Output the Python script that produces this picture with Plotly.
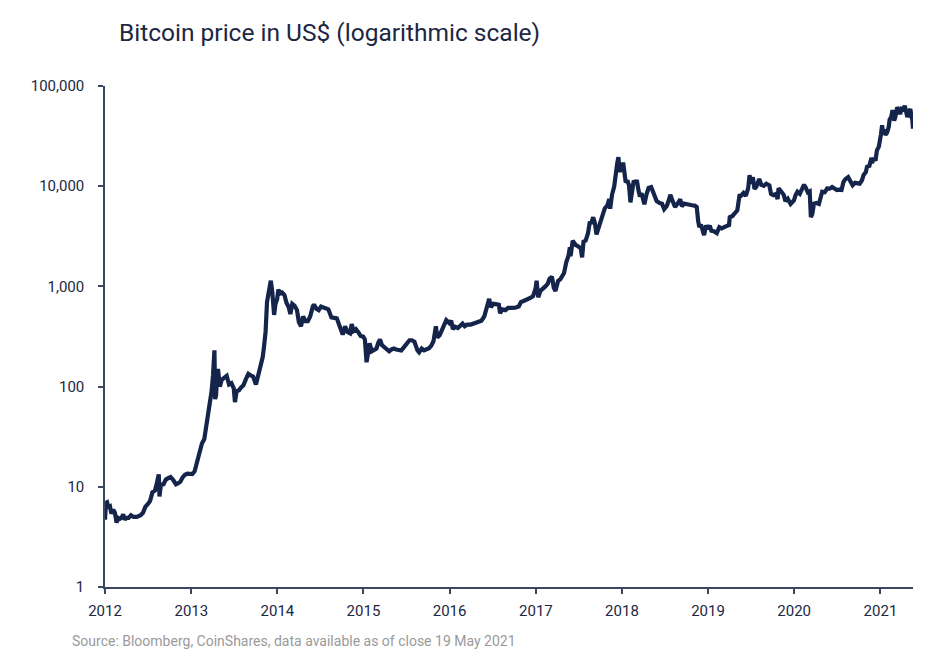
import plotly.graph_objects as go

dates = [
"2012-01-01","2012-01-05","2012-01-10","2012-01-15","2012-01-22","2012-01-28","2012-02-05","2012-02-12","2012-02-19","2012-02-26",
"2012-03-04","2012-03-11","2012-03-18","2012-03-25","2012-04-01","2012-04-10","2012-04-20","2012-05-01","2012-05-15","2012-05-31",
"2012-06-10","2012-06-20","2012-06-30","2012-07-10","2012-07-20","2012-07-31","2012-08-08","2012-08-16","2012-08-19","2012-08-25",
"2012-09-05","2012-09-15","2012-09-25","2012-10-05","2012-10-15","2012-10-28","2012-11-05","2012-11-15","2012-11-25","2012-12-05",
"2012-12-15","2012-12-25",
"2013-01-05","2013-01-15","2013-01-25","2013-02-05","2013-02-15","2013-02-25","2013-03-05","2013-03-12","2013-03-20","2013-03-28",
"2013-04-03","2013-04-09","2013-04-12","2013-04-16","2013-04-20","2013-04-24","2013-05-02","2013-05-10","2013-05-20","2013-05-31",
"2013-06-10","2013-06-20","2013-06-30","2013-07-05","2013-07-12","2013-07-22","2013-07-31","2013-08-10","2013-08-20","2013-08-31",
"2013-09-10","2013-09-20","2013-10-02","2013-10-10","2013-10-20","2013-10-31","2013-11-06","2013-11-12","2013-11-18","2013-11-22",
"2013-11-30","2013-12-04","2013-12-10","2013-12-18","2013-12-24","2013-12-31",
"2014-01-05","2014-01-12","2014-01-20","2014-01-31","2014-02-08","2014-02-18","2014-02-25","2014-03-05","2014-03-15","2014-03-25",
"2014-04-02","2014-04-11","2014-04-20","2014-04-30","2014-05-10","2014-05-20","2014-05-31","2014-06-05","2014-06-15","2014-06-25",
"2014-07-05","2014-07-15","2014-07-25","2014-08-05","2014-08-18","2014-08-31","2014-09-10","2014-09-22","2014-10-05","2014-10-15",
"2014-10-25","2014-11-05","2014-11-12","2014-11-20","2014-11-30","2014-12-10","2014-12-20","2014-12-31",
"2015-01-07","2015-01-14","2015-01-20","2015-01-27","2015-02-05","2015-02-15","2015-02-25","2015-03-05","2015-03-12","2015-03-20",
"2015-03-31","2015-04-10","2015-04-20","2015-04-30","2015-05-10","2015-05-20","2015-05-31","2015-06-10","2015-06-20","2015-06-30",
"2015-07-10","2015-07-15","2015-07-25","2015-08-05","2015-08-18","2015-08-25","2015-09-05","2015-09-15","2015-09-25","2015-10-05",
"2015-10-15","2015-10-25","2015-11-04","2015-11-10","2015-11-20","2015-11-30","2015-12-10","2015-12-18","2015-12-31",
"2016-01-08","2016-01-15","2016-01-25","2016-02-05","2016-02-15","2016-02-25","2016-03-05","2016-03-15","2016-03-31","2016-04-15",
"2016-04-30","2016-05-15","2016-05-27","2016-06-05","2016-06-17","2016-06-24","2016-07-05","2016-07-15","2016-07-28","2016-08-02",
"2016-08-12","2016-08-25","2016-09-05","2016-09-20","2016-10-05","2016-10-20","2016-10-30","2016-11-10","2016-11-20","2016-11-30",
"2016-12-10","2016-12-20","2016-12-31",
"2017-01-04","2017-01-11","2017-01-20","2017-01-31","2017-02-10","2017-02-20","2017-02-28","2017-03-10","2017-03-18","2017-03-25",
"2017-04-05","2017-04-15","2017-04-30","2017-05-10","2017-05-20","2017-05-25","2017-05-28","2017-06-06","2017-06-12","2017-06-18",
"2017-06-30","2017-07-10","2017-07-16","2017-07-22","2017-07-31","2017-08-10","2017-08-17","2017-08-25","2017-09-01","2017-09-08",
"2017-09-15","2017-09-22","2017-09-30","2017-10-10","2017-10-20","2017-10-31","2017-11-08","2017-11-12","2017-11-20","2017-11-29",
"2017-12-07","2017-12-12","2017-12-17","2017-12-22","2017-12-27","2017-12-31",
"2018-01-06","2018-01-12","2018-01-17","2018-01-24","2018-01-31","2018-02-06","2018-02-12","2018-02-20","2018-02-27","2018-03-05",
"2018-03-12","2018-03-18","2018-03-25","2018-04-01","2018-04-06","2018-04-15","2018-04-24","2018-05-05","2018-05-15","2018-05-28",
"2018-06-10","2018-06-20","2018-06-29","2018-07-10","2018-07-20","2018-07-25","2018-08-05","2018-08-14","2018-08-25","2018-09-05",
"2018-09-12","2018-09-22","2018-10-05","2018-10-15","2018-10-25","2018-11-05","2018-11-14","2018-11-20","2018-11-25","2018-12-02",
"2018-12-10","2018-12-15","2018-12-24","2018-12-31",
"2019-01-08","2019-01-15","2019-01-25","2019-02-07","2019-02-18","2019-02-28","2019-03-15","2019-03-31","2019-04-03","2019-04-15",
"2019-04-25","2019-05-05","2019-05-14","2019-05-20","2019-05-31","2019-06-10","2019-06-20","2019-06-26","2019-07-02","2019-07-10",
"2019-07-17","2019-07-25","2019-08-06","2019-08-15","2019-08-25","2019-09-05","2019-09-18","2019-09-25","2019-10-05","2019-10-15",
"2019-10-23","2019-10-27","2019-11-08","2019-11-18","2019-11-25","2019-12-05","2019-12-17","2019-12-31",
"2020-01-07","2020-01-15","2020-01-25","2020-02-05","2020-02-12","2020-02-20","2020-02-28","2020-03-07","2020-03-12","2020-03-18",
"2020-03-25","2020-04-05","2020-04-15","2020-04-29","2020-05-10","2020-05-20","2020-05-31","2020-06-10","2020-06-20","2020-06-30",
"2020-07-10","2020-07-20","2020-07-28","2020-08-05","2020-08-17","2020-08-25","2020-09-05","2020-09-15","2020-09-25","2020-10-05",
"2020-10-15","2020-10-21","2020-10-31","2020-11-05","2020-11-15","2020-11-24","2020-11-26","2020-12-05","2020-12-11","2020-12-17",
"2020-12-25","2020-12-31",
"2021-01-03","2021-01-08","2021-01-12","2021-01-15","2021-01-22","2021-01-29","2021-02-05","2021-02-09","2021-02-16","2021-02-21",
"2021-02-28","2021-03-05","2021-03-13","2021-03-20","2021-03-25","2021-04-01","2021-04-08","2021-04-14","2021-04-18","2021-04-25",
"2021-05-03","2021-05-08","2021-05-12","2021-05-16","2021-05-19",
]

prices_usd = [
4.7,6.9,7.0,6.3,6.4,5.4,5.9,5.5,4.4,4.9,
4.8,4.9,5.3,4.7,4.9,4.9,5.2,5.0,5.0,5.2,
5.5,6.3,6.7,7.2,8.8,9.2,10.9,13.3,8.0,10.5,
10.6,11.8,12.2,12.5,11.8,10.6,10.8,11.2,12.4,13.2,
13.5,13.4,
13.4,14.3,17.5,20.5,27,30,40,46,64,90,
130,230,75,82,125,150,100,117,122,128,
105,108,96,70,90,92,98,103,118,134,
129,126,105,126,170,198,260,355,700,800,
1130,1140,900,520,670,750,
930,850,870,820,690,620,530,670,640,580,
440,400,500,450,450,500,630,660,600,580,
630,620,600,590,490,480,480,400,330,400,
350,340,420,360,375,350,320,315,
295,175,210,270,225,235,240,275,295,260,
245,235,225,235,240,234,230,229,245,262,
280,290,290,280,230,220,240,230,236,240,
255,285,400,310,325,375,415,460,430,
455,375,395,385,405,425,400,415,416,430,
450,455,500,580,750,620,670,665,655,540,
590,580,610,610,612,630,700,715,730,745,
770,800,960,
1140,780,900,970,1000,1060,1190,1250,970,900,
1130,1180,1350,1750,2050,2450,2000,2850,2650,2600,
2500,2400,1950,2800,2870,3400,4300,4350,4900,4300,
3300,3700,4350,4800,6000,6450,7450,5950,8250,9900,
16000,17000,19500,13800,15700,14000,
17200,13900,10900,11400,10200,6900,8900,11400,10700,11500,
9100,7900,8500,6900,6600,8300,9600,9800,8600,7100,
6800,6700,5900,6350,7400,8200,7000,6200,6700,7400,
6300,6700,6600,6600,6450,6400,6200,4500,3900,4150,
3550,3250,4050,3750,
4050,3600,3550,3400,3900,3800,3950,4100,4900,5050,
5400,5750,8000,8000,8550,8000,9500,12900,10600,12300,
9400,9900,11800,10300,10100,10600,10200,8400,8150,8350,
7450,9550,8800,8200,7100,7500,6650,7200,
8150,8800,8400,9600,10350,9600,8700,8900,4900,5300,
6700,6800,6650,8800,8700,9500,9450,9800,9350,9150,
9250,9180,11000,11750,12300,11350,10200,10800,10750,10600,
11500,12900,13800,15600,15950,19200,17100,19100,18000,22800,
24700,29000,
32800,40600,34000,36800,32500,34300,38900,46400,49200,57500,
45200,48800,61000,58300,52300,59000,58000,63500,56000,49000,
56500,58800,49500,46500,37500,
]

y_tickvals = [1, 10, 100, 1000, 10000, 100000]
y_ticktext = ["1", "10", "100", "1,000", "10,000", "100,000"]
x_tickvals = ["%d-01-01" % y for y in range(2012, 2022)]
x_ticktext = [str(y) for y in range(2012, 2022)]

title_text = "Bitcoin price in US$ (logarithmic scale)"
source_text = "Source: Bloomberg, CoinShares, data available as of close 19 May 2021"

navy = "#14244a"
axis_col = "#3b4660"
label_col = "#1c2743"
fontfam = "Roboto, Noto Sans, sans-serif"

fig = go.Figure()
fig.add_trace(go.Scatter(
    x=dates, y=prices_usd, mode="lines",
    line=dict(color=navy, width=4.2, shape="linear"),
    hoverinfo="x+y", showlegend=False,
))

# page body has an 8px margin, so the figure's origin sits at (8, 8)
fig.update_layout(
    width=919, height=644,
    margin=dict(l=97, r=14, t=78, b=65),
    paper_bgcolor="white", plot_bgcolor="white",
    font=dict(family=fontfam, color=label_col, size=15),
    xaxis=dict(
        type="date", range=["2012-01-01", "2021-05-19"],
        tickvals=x_tickvals, ticktext=x_ticktext,
        showgrid=False, zeroline=False,
        showline=True, linecolor=axis_col, linewidth=1.5,
        ticks="outside", ticklen=5, tickwidth=1.5, tickcolor=axis_col,
        ticklabelstandoff=4,
        tickfont=dict(size=15, color=label_col),
    ),
    yaxis=dict(
        type="log", range=[0, 5],
        tickvals=y_tickvals, ticktext=y_ticktext,
        showgrid=False, zeroline=False,
        showline=True, linecolor=axis_col, linewidth=1.5,
        ticks="outside", ticklen=5, tickwidth=1.5, tickcolor=axis_col,
        ticklabelstandoff=11,
        tickfont=dict(size=15, color=label_col),
    ),
    annotations=[
        dict(text=title_text, xref="paper", yref="paper", x=0.0149, y=1.106,
             xanchor="left", yanchor="middle", showarrow=False,
             font=dict(size=24.5, color=label_col, family=fontfam)),
        dict(text=source_text, xref="paper", yref="paper", x=-0.0433, y=-0.108,
             xanchor="left", yanchor="middle", showarrow=False,
             font=dict(size=14, color="#9a9a9a", family=fontfam)),
    ],
)

fig.write_html("out.html")
